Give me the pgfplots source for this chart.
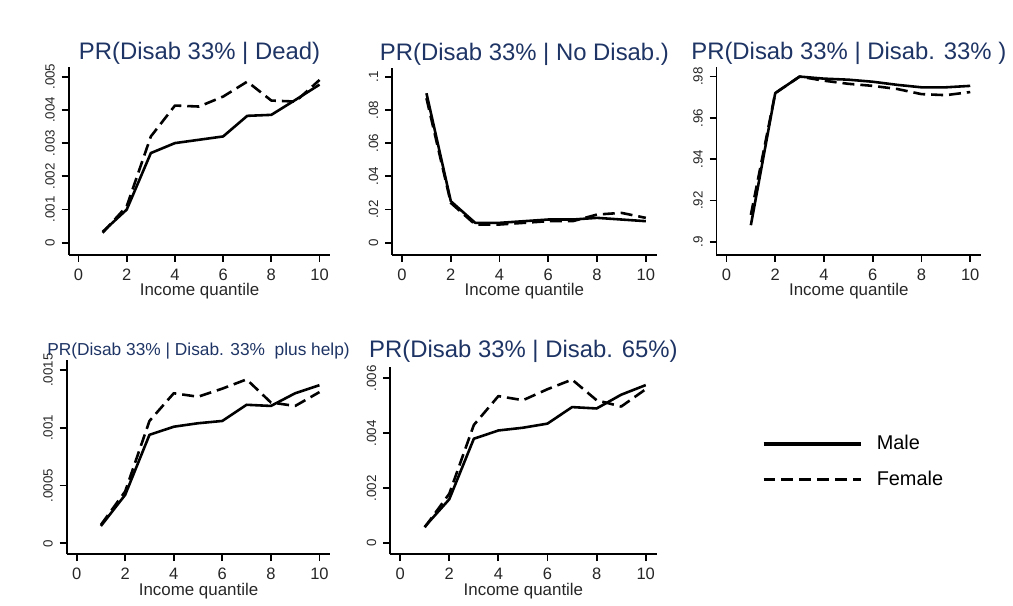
\documentclass[border=0pt]{standalone}
\usepackage{pgfplots}
\pgfplotsset{compat=1.18}
\usepackage{fontspec}
\setmainfont{Liberation Sans}
\definecolor{ttl}{RGB}{30,52,100}

\pgfplotstableread{
q  m1       f1       m2     f2     m3     f3     m4       f4       m5      f5
1  0.00033  0.00030  0.090  0.087  0.908  0.913  0.00015  0.00016  0.00060 0.00058
2  0.00100  0.00110  0.025  0.024  0.972  0.972  0.00042  0.00045  0.00160 0.00180
3  0.00270  0.00320  0.012  0.011  0.980  0.980  0.00094  0.00106  0.00380 0.00430
4  0.00300  0.00413  0.012  0.011  0.979  0.978  0.00101  0.00130  0.00410 0.00535
5  0.00310  0.00410  0.013  0.012  0.9785 0.9765 0.00104  0.00127  0.00420 0.00520
6  0.00320  0.00440  0.014  0.013  0.9775 0.9755 0.00106  0.00134  0.00435 0.00560
7  0.00382  0.00485  0.014  0.013  0.976  0.974  0.00120  0.00142  0.00495 0.00595
8  0.00385  0.00428  0.015  0.017  0.9748 0.9715 0.00119  0.00122  0.00490 0.00520
9  0.00430  0.00425  0.014  0.018  0.9748 0.9710 0.00130  0.00119  0.00540 0.00497
10 0.00476  0.00490  0.013  0.015  0.9755 0.9725 0.00137  0.00131  0.00575 0.00560
}\data

\pgfplotsset{
  stata/.style={
    scale only axis,
    axis x line*=bottom, axis y line*=left,
    axis line style={line width=0.9pt,-},
    tick style={line width=0.9pt, black},
    tick align=outside, major tick length=3.5pt,
    xmin=-0.41, xmax=10.45,
    scaled y ticks=false, scaled x ticks=false,
    xtick={0,2,4,6,8,10}, xticklabels={0,2,4,6,8,10},
    xticklabel style={font=\fontsize{8.3}{10}\selectfont, text=black!85},
    yticklabel style={xshift=-3.5pt, rotate=90, anchor=base, font=\fontsize{6.7}{8}\selectfont, text=black!85},
    xlabel={Income quantile},
    every axis x label/.style={at={(axis description cs:0.5,0)}, anchor=base, yshift=-20.5pt, font=\fontsize{8.5}{10}\selectfont, text=black!85},
    every axis title/.style={at={(axis description cs:0.5,1)}, anchor=base, yshift=3.5pt, font=\fontsize{12}{14}\selectfont, text=ttl},
    clip=false,
  },
  male/.style={black, line width=1.3pt, line join=round},
  female/.style={black, line width=1.3pt, dash pattern=on 6pt off 3pt, line join=round},
}

\begin{document}
\begin{tikzpicture}
\path (0,0) rectangle (506.5pt,301pt);

% Panel 1
\begin{axis}[stata, at={(34.5pt,173pt)}, anchor=south west,
  width=131.5pt, height=94.5pt,
  ymin=-0.00036, ymax=0.0053,
  ytick={0,0.001,0.002,0.003,0.004,0.005},
  yticklabels={0,.001,.002,.003,.004,.005},
  title={PR(Disab 33\% | Dead)}]
\addplot[male] table[x=q,y=m1]{\data};
\addplot[female] table[x=q,y=f1]{\data};
\end{axis}

% Panel 2
\begin{axis}[stata, at={(197pt,173pt)}, anchor=south west,
  width=133pt, height=94pt,
  ymin=-0.0072, ymax=0.1054,
  ytick={0,0.02,0.04,0.06,0.08,0.1},
  yticklabels={0,.02,.04,.06,.08,.1},
  title={PR(Disab 33\% | No Disab.)}]
\addplot[male] table[x=q,y=m2]{\data};
\addplot[female] table[x=q,y=f2]{\data};
\end{axis}

% Panel 3
\begin{axis}[stata, at={(360pt,173pt)}, anchor=south west,
  width=133pt, height=94.5pt,
  ymin=0.8937, ymax=0.9848,
  ytick={0.9,0.92,0.94,0.96,0.98},
  yticklabels={.9,.92,.94,.96,.98},
  title={PR(Disab 33\% | Disab. 33\% )}]
\addplot[male] table[x=q,y=m3]{\data};
\addplot[female] table[x=q,y=f3]{\data};
\end{axis}

% Panel 4
\begin{axis}[stata, at={(33.5pt,22.5pt)}, anchor=south west,
  width=132.5pt, height=97.5pt,
  ymin=-0.000095, ymax=0.001586,
  ytick={0,0.0005,0.001,0.0015},
  yticklabels={0,.0005,.001,.0015},
  title={PR(Disab 33\% | Disab. 33\%~ plus help)},
  title style={yshift=-1pt, font=\fontsize{8.7}{10}\selectfont}]
\addplot[male] table[x=q,y=m4]{\data};
\addplot[female] table[x=q,y=f4]{\data};
\end{axis}

% Panel 5
\begin{axis}[stata, at={(196pt,22.5pt)}, anchor=south west,
  width=134pt, height=94pt,
  ymin=-0.0004, ymax=0.0064,
  ytick={0,0.002,0.004,0.006},
  yticklabels={0,.002,.004,.006},
  title={PR(Disab 33\% | Disab. 65\%)},
  title style={yshift=1.5pt},
  legend style={at={(axis description cs:1.392,0.495)}, anchor=west, draw=none, fill=none,
    inner sep=0pt, row sep=7pt, font=\fontsize{10}{12}\selectfont,
    nodes={inner sep=1pt}},
  legend cell align=left,
  legend image code/.code={\draw[#1, line width=1.8pt] (0pt,0pt) -- (49pt,0pt);}]
\addplot[male] table[x=q,y=m5]{\data};
\addlegendentry{\hspace{6pt}Male}
\addplot[female] table[x=q,y=f5]{\data};
\addlegendentry{\hspace{6pt}Female}
\end{axis}
\end{tikzpicture}
\end{document}
